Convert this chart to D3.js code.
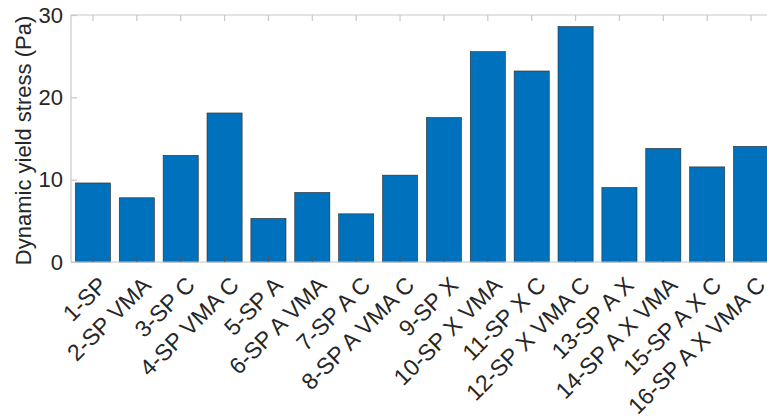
<!doctype html>
<html lang="en">
<head>
<meta charset="UTF-8" />
<title>Dynamic yield stress</title>
<script src="https://d3js.org/d3.v7.min.js"></script>
<style>
  body { margin: 0; background: #fff; }
  svg { display: block; font-family: "Liberation Sans", Arial, sans-serif; }
</style>
</head>
<body>
<svg id="chart" width="767" height="420"></svg>
<script>
const categories = ["1-SP", "2-SP VMA", "3-SP C", "4-SP VMA C", "5-SP A", "6-SP A VMA",
  "7-SP A C", "8-SP A VMA C", "9-SP X", "10-SP X VMA", "11-SP X C", "12-SP X VMA C",
  "13-SP A X", "14-SP A X VMA", "15-SP A X C", "16-SP A X VMA C"];
const values = [9.6, 7.8, 12.95, 18.1, 5.3, 8.45, 5.85, 10.55, 17.55, 25.55, 23.2, 28.6,
  9.05, 13.8, 11.55, 14.05];
const yTicks = [0, 10, 20, 30];

const plotLeft = 71, plotRight = 773, plotTop = 15, plotBottom = 262;
const svg = d3.select("#chart");

const x = d3.scaleBand()
  .domain(categories)
  .range([plotLeft, plotRight])
  .paddingInner(0.2)
  .paddingOuter(0.1);

const y = d3.scaleLinear().domain([0, 30]).range([plotBottom, plotTop]);

// bars
svg.append("g")
  .selectAll("rect")
  .data(values)
  .join("rect")
  .attr("x", (d, i) => x(categories[i]))
  .attr("y", d => y(d))
  .attr("width", x.bandwidth())
  .attr("height", d => y(0) - y(d))
  .attr("fill", "#0072bd")
  .attr("stroke", "#2a2a2a")
  .attr("stroke-width", 0.6);

// frame
const axisColor = "#c8c8c8";
svg.append("path")
  .attr("d", `M${plotLeft},${plotBottom}H${plotRight}M${plotLeft},${plotBottom}V${plotTop}H${plotRight}`)
  .attr("fill", "none")
  .attr("stroke", axisColor)
  .attr("stroke-width", 1.2);

// bottom axis (ticks inward)
const xAxis = svg.append("g")
  .attr("transform", `translate(0,${plotBottom})`)
  .call(d3.axisBottom(x).tickSize(-6).tickPadding(8));
xAxis.select(".domain").remove();
xAxis.selectAll(".tick line").attr("stroke", "#555").attr("stroke-width", 0.8);
xAxis.selectAll(".tick text")
  .attr("font-size", 23)
  .attr("font-family", "Liberation Sans, Arial, sans-serif")
  .attr("fill", "#262626")
  .attr("text-anchor", "end")
  .attr("dy", "0.55em")
  .attr("transform", "translate(1,10) rotate(-45)");

// top ticks
const xTop = svg.append("g")
  .attr("transform", `translate(0,${plotTop})`)
  .call(d3.axisTop(x).tickSize(-6).tickFormat(""));
xTop.select(".domain").remove();
xTop.selectAll(".tick line").attr("stroke", axisColor).attr("stroke-width", 1.2);

// left axis
const yAxis = svg.append("g")
  .attr("transform", `translate(${plotLeft},0)`)
  .call(d3.axisLeft(y).tickValues(yTicks).tickSize(-6).tickPadding(8));
yAxis.select(".domain").remove();
yAxis.selectAll(".tick line").attr("stroke", axisColor).attr("stroke-width", 1.2);
yAxis.selectAll(".tick text")
  .attr("font-size", 22)
  .attr("font-family", "Liberation Sans, Arial, sans-serif")
  .attr("fill", "#262626");

// y label
svg.append("text")
  .attr("transform", `translate(31,${(plotTop + plotBottom) / 2 + 2}) rotate(-90)`)
  .attr("text-anchor", "middle")
  .attr("font-size", 22)
  .attr("fill", "#262626")
  .text("Dynamic yield stress (Pa)");
</script>
</body>
</html>
